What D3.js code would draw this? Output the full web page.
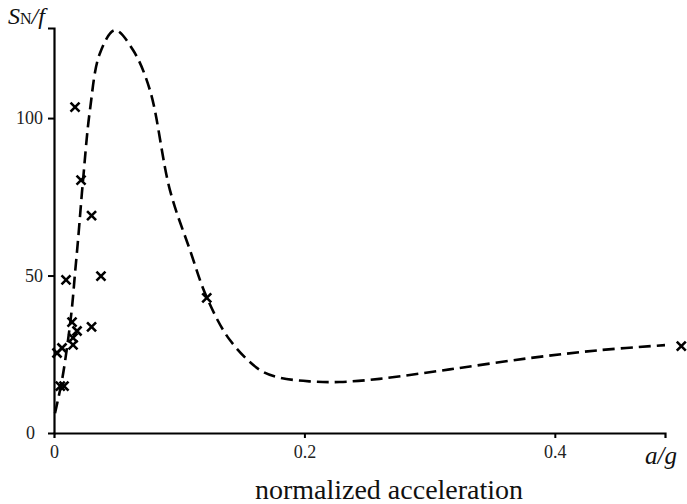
<!DOCTYPE html>
<html>
<head>
<meta charset="utf-8">
<script src="https://cdn.jsdelivr.net/npm/d3@7"></script>
<style>
  body { margin: 0; background: #fff; }
  svg text { font-family: "Liberation Serif", "Times New Roman", "DejaVu Serif", serif; }
</style>
</head>
<body>
<svg width="687" height="504"></svg>
<script>
  // measured points (a/g, S_N/f)
  var pointA = [0.0168, 0.0216, 0.030, 0.0096, 0.0375, 0.0144, 0.0184, 0.0152, 0.0152, 0.030,
                0.0064, 0.0024, 0.005, 0.008, 0.122, 0.501];
  var pointS = [103.5, 80.3, 69, 48.6, 49.8, 35.2, 32.4, 30.2, 28, 33.7,
                27, 25.4, 14.9, 14.9, 42.9, 27.6];

  // dashed model curve
  var curveA = [0.0008, 0.0064, 0.0112, 0.0144, 0.0168, 0.0192, 0.0232, 0.0287, 0.0367, 0.0487,
                0.0631, 0.0766, 0.0926, 0.1086, 0.1222, 0.1405, 0.1645, 0.180, 0.204, 0.228,
                0.26, 0.316, 0.38, 0.436, 0.488];
  var curveS = [6.3, 16.8, 29.5, 40, 50.8, 61.3, 80.3, 102.5, 120.6, 127.9,
                121.6, 108.9, 77.1, 58.1, 42.9, 29.5, 20, 17.6, 16.4, 16.2,
                17.2, 20.2, 23.8, 26.3, 27.9];

  var xTicks = [0, 0.2, 0.4];
  var yTicks = [0, 50, 100];

  var svg = d3.select("svg");

  var x = d3.scaleLinear().domain([0, 0.488]).range([54, 665]);
  var y = d3.scaleLinear().domain([0, 128.6]).range([433, 28]);

  var xAxis = svg
    .append("g")
    .attr("transform", "translate(0," + y(0) + ")")
    .call(d3.axisBottom(x).tickValues(xTicks).tickSizeOuter(0).tickSize(5).tickPadding(4)
      .tickFormat(function (d) { return d === 0 ? "0" : d3.format(".1f")(d); }));

  var yAxis = svg
    .append("g")
    .attr("transform", "translate(" + x(0) + ",0)")
    .call(d3.axisLeft(y).tickValues(yTicks).tickSizeOuter(0).tickSize(6).tickPadding(5));

  [xAxis, yAxis].forEach(function (g) {
    g.attr("font-family", null);
    g.select(".domain").attr("stroke", "#000").attr("stroke-width", 2.2);
    g.selectAll(".tick line").attr("stroke", "#000").attr("stroke-width", 2);
    g.selectAll(".tick text")
      .attr("fill", "#222")
      .style("font-size", "18px");
  });
  yAxis.selectAll(".tick").filter(function (d) { return d === 0; }).select("line").remove();
  yAxis.selectAll(".tick").filter(function (d) { return d === 0; }).select("text").attr("dx", -8);
  xAxis.selectAll(".tick").filter(function (d) { return d === 0; }).select("line").remove();
  xAxis.selectAll(".tick text").attr("dy", "0.9em");

  var line = d3
    .line()
    .x(function (d, i) { return x(curveA[i]); })
    .y(function (d, i) { return y(curveS[i]); })
    .curve(d3.curveCatmullRom.alpha(0.5));

  svg
    .append("path")
    .datum(curveA)
    .attr("d", line)
    .attr("fill", "none")
    .attr("stroke", "#000")
    .attr("stroke-width", 2.6)
    .attr("stroke-dasharray", "12,6");

  var s = 4.5;
  svg
    .append("g")
    .selectAll("path")
    .data(pointA)
    .enter()
    .append("path")
    .attr("d", function (d, i) {
      var cx = x(d), cy = y(pointS[i]);
      return "M" + (cx - s) + "," + (cy - s) + "L" + (cx + s) + "," + (cy + s) +
        "M" + (cx - s) + "," + (cy + s) + "L" + (cx + s) + "," + (cy - s);
    })
    .attr("stroke", "#000")
    .attr("stroke-width", 2.6)
    .attr("fill", "none");

  // axis titles
  var yl = svg.append("text").attr("x", 8).attr("y", 24).attr("fill", "#111").style("font-size", "24px");
  yl.append("tspan").style("font-style", "italic").text("S");
  yl.append("tspan").style("font-size", "16px").text("N");
  yl.append("tspan").style("font-style", "italic").text("/f");

  svg.append("text")
    .attr("x", 661).attr("y", 464)
    .attr("text-anchor", "middle")
    .attr("fill", "#111")
    .style("font-style", "italic")
    .style("font-size", "25px")
    .text("a/g");

  svg.append("text")
    .attr("x", 389).attr("y", 499)
    .attr("text-anchor", "middle")
    .attr("fill", "#111")
    .style("font-size", "28px")
    .text("normalized acceleration");
</script>
</body>
</html>
